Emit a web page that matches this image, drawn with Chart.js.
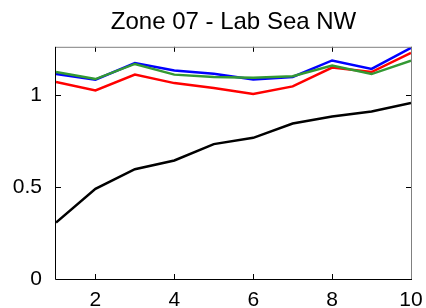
<!DOCTYPE html>
<html>
<head>
<meta charset="utf-8">
<script src="https://cdn.jsdelivr.net/npm/chart.js@4/dist/chart.umd.min.js"></script>
<style>
  html, body { margin: 0; padding: 0; background: #fff; }
  #wrap { width: 426px; height: 308px; }
</style>
</head>
<body>
<div id="wrap"><canvas id="zoneChart" width="426" height="308"></canvas></div>
<script>
// values
var months = [1, 2, 3, 4, 5, 6, 7, 8, 9, 10];
var blueVals = [1.112, 1.082, 1.172, 1.132, 1.114, 1.082, 1.096, 1.186, 1.140, 1.254];
var greenVals = [1.123, 1.085, 1.167, 1.109, 1.096, 1.092, 1.100, 1.158, 1.112, 1.185];
var redVals = [1.069, 1.023, 1.109, 1.063, 1.036, 1.004, 1.045, 1.147, 1.123, 1.227];
var blackVals = [0.306, 0.489, 0.596, 0.643, 0.732, 0.766, 0.844, 0.882, 0.909, 0.955];
var xTicks = [2, 4, 6, 8, 10];
var yTicks = [0, 0.5, 1];

function pts(vals) {
    return vals.map(function (v, i) { return { x: months[i], y: v }; });
}

// matlab style box with inward ticks
var boxPlugin = {
    id: 'boxTicks',
    afterDatasetsDraw: function (chart) {
        var ctx = chart.ctx;
        var a = chart.chartArea;
        var xs = chart.scales.x, ys = chart.scales.y;
        var len = 5;
        ctx.save();
        ctx.lineWidth = 1;
        ctx.strokeStyle = '#000';
        ctx.beginPath();
        xTicks.forEach(function (t) {
            var px = Math.round(xs.getPixelForValue(t)) + 0.5;
            ctx.moveTo(px, a.bottom); ctx.lineTo(px, a.bottom - len);
            ctx.moveTo(px, a.top); ctx.lineTo(px, a.top + len);
        });
        yTicks.forEach(function (t) {
            var py = Math.round(ys.getPixelForValue(t)) + 0.5;
            ctx.moveTo(a.left, py); ctx.lineTo(a.left + len, py);
            ctx.moveTo(a.right, py); ctx.lineTo(a.right - len, py);
        });
        ctx.stroke();
        ctx.strokeStyle = '#808080';
        ctx.beginPath();
        ctx.moveTo(a.left, a.top + 0.5); ctx.lineTo(a.right + 0.5, a.top + 0.5);
        ctx.lineTo(a.right + 0.5, a.bottom);
        ctx.stroke();
        ctx.strokeStyle = '#000';
        ctx.beginPath();
        ctx.moveTo(a.left - 0.5, a.top); ctx.lineTo(a.left - 0.5, a.bottom + 0.5);
        ctx.lineTo(a.right + 1, a.bottom + 0.5);
        ctx.stroke();
        ctx.restore();
    }
};

var ctx = document.getElementById('zoneChart').getContext('2d');
var myChart = new Chart(ctx, {
    type: 'line',
    data: {
        datasets: [
            { data: pts(greenVals), borderColor: '#339933' },
            { data: pts(blueVals), borderColor: '#0000ff' },
            { data: pts(redVals), borderColor: '#ff0000' },
            { data: pts(blackVals), borderColor: '#000000' }
        ]
    },
    options: {
        responsive: false,
        animation: false,
        elements: {
            line: { borderWidth: 2.5, tension: 0, fill: false },
            point: { radius: 0 }
        },
        layout: { padding: { left: 0, right: 15, top: 0, bottom: 0 } },
        plugins: {
            legend: { display: false },
            tooltip: { enabled: false },
            title: {
                display: true,
                text: 'Zone 07 - Lab Sea NW',
                fullSize: false,
                color: '#000',
                font: { family: 'Liberation Sans, Arial, sans-serif', size: 24, weight: 'normal' },
                padding: { top: 8, bottom: 10 }
            }
        },
        scales: {
            x: {
                type: 'linear',
                min: 1,
                max: 10,
                afterBuildTicks: function (s) { s.ticks = xTicks.map(function (v) { return { value: v }; }); },
                afterFit: function (s) { s.height = 29; },
                grid: { display: false },
                border: { display: false },
                ticks: {
                    color: '#000',
                    padding: 1,
                    maxRotation: 0,
                    font: { family: 'Liberation Sans, Arial, sans-serif', size: 21 },
                    callback: function (v) { return String(v); }
                }
            },
            y: {
                min: 0,
                max: 1.26,
                afterBuildTicks: function (s) { s.ticks = yTicks.map(function (v) { return { value: v }; }); },
                afterFit: function (s) { s.width = 56; },
                grid: { display: false },
                border: { display: false },
                ticks: {
                    color: '#000',
                    padding: 6,
                    font: { family: 'Liberation Sans, Arial, sans-serif', size: 21 },
                    callback: function (v) { return String(v); }
                }
            }
        }
    },
    plugins: [boxPlugin]
});
</script>
</body>
</html>
